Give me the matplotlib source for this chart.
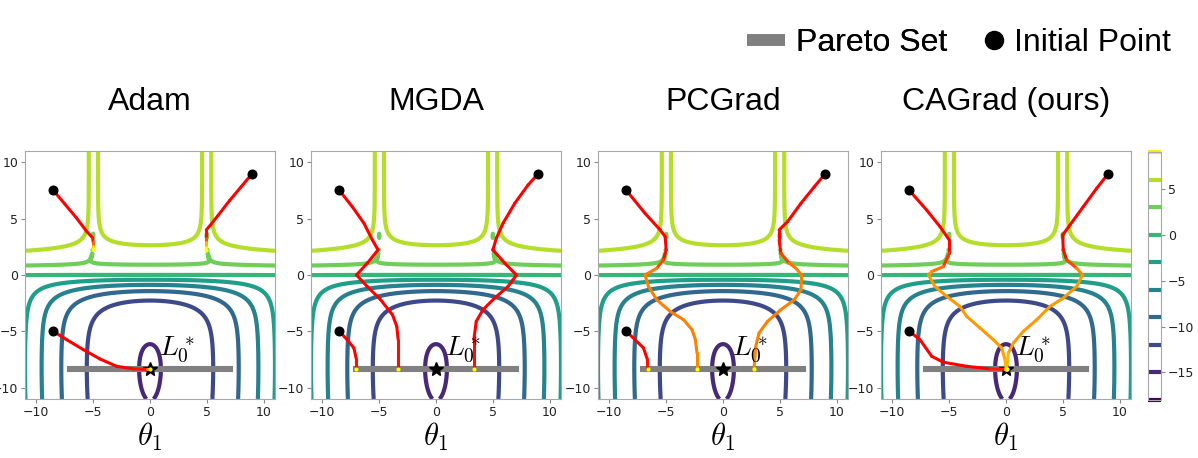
import numpy as np
import matplotlib.pyplot as plt
from matplotlib.collections import LineCollection
from matplotlib.lines import Line2D

plt.rcParams['mathtext.fontset'] = 'cm'

#%% data
methods = ['Adam', 'MGDA', 'PCGrad', 'CAGrad (ours)']
levels = [-18, -15, -12, -9, -6, -3, 0, 3, 6, 9]
cbar_ticks = [-15, -10, -5, 0, 5]
ticks = [-10, -5, 0, 5, 10]
starts_x = [-8.5, 9.0, -8.5]
starts_y = [7.5, 9.0, -5.0]
opt_x, opt_y = 0.0, -8.3552
pareto_x = [-7.0, 7.0]

# trajectory points (theta1, theta2, progress), progress 0 = red ... 1 = yellow
adam = [
    [(-8.5, 7.5, 0), (-7.5, 6.3, 0), (-6.5, 5.1, 0), (-5.6, 3.9, 0), (-5.05, 3.3, 0),
     (-5.0, 2.9, 0.2), (-5.0, 2.6, 0.6), (-5.0, 2.3, 1)],
    [(9.0, 9.0, 0), (8.0, 7.8, 0), (7.0, 6.6, 0), (6.0, 5.3, 0), (5.3, 4.4, 0), (4.95, 4.0, 0),
     (4.95, 3.3, 0.1), (4.95, 2.9, 0.5), (4.95, 2.5, 0.9), (4.95, 2.2, 1)],
    [(-8.5, -5.0, 0), (-7.33, -5.74, 0), (-5.87, -6.62, 0), (-4.4, -7.45, 0), (-2.93, -8.1, 0),
     (-1.47, -8.33, 0), (-0.3, -8.36, 0.1), (0.0, -8.36, 1)],
]
mgda = [
    [(-8.5, 7.5, 0), (-7.37, 6.06, 0), (-6.34, 4.59, 0), (-5.6, 3.11, 0), (-5.1, 2.23, 0),
     (-6.05, 1.04, 0), (-7.0, 0.0, 0), (-6.05, -1.02, 0), (-4.87, -2.2, 0), (-3.83, -3.53, 0),
     (-3.45, -4.56, 0), (-3.33, -5.74, 0), (-3.33, -8.36, 0.1)],
    [(9.0, 9.0, 0), (8.1, 7.98, 0), (6.93, 6.36, 0), (5.9, 4.59, 0), (5.31, 3.26, 0),
     (5.01, 2.23, 0), (6.1, 1.0, 0), (7.08, 0.0, 0), (6.34, -1.02, 0), (5.16, -2.05, 0),
     (4.13, -3.08, 0), (3.54, -4.12, 0), (3.33, -5.74, 0), (3.33, -8.36, 0.1)],
    [(-8.5, -5.0, 0), (-7.82, -5.74, 0), (-7.23, -6.47, 0), (-7.0, -7.5, 0), (-7.0, -8.36, 0.1)],
]
pcgrad = [
    [(-8.5, 7.5, 0), (-6.86, 5.47, 0), (-5.53, 4.0, 0), (-5.09, 3.41, 0), (-5.0, 2.23, 0),
     (-5.24, 1.34, 0.1), (-5.83, 0.6, 0.45), (-6.86, 0.0, 0.5), (-6.56, -1.02, 0.5),
     (-5.83, -2.2, 0.5), (-4.65, -3.23, 0.5), (-3.47, -3.97, 0.5), (-2.73, -4.85, 0.5),
     (-2.43, -5.74, 0.5), (-2.29, -6.92, 0.5), (-2.29, -8.36, 0.55)],
    [(9.0, 9.0, 0), (8.04, 7.83, 0), (6.86, 6.36, 0), (5.68, 4.73, 0), (4.94, 4.0, 0),
     (4.94, 3.11, 0), (5.09, 1.93, 0.1), (5.83, 1.05, 0.4), (6.42, 0.6, 0.5), (6.92, 0.0, 0.5),
     (6.86, -1.31, 0.5), (6.27, -2.2, 0.5), (5.09, -3.08, 0.5), (3.91, -4.12, 0.5),
     (3.17, -5.15, 0.5), (2.88, -6.33, 0.5), (2.73, -8.36, 0.55)],
    [(-8.5, -5.0, 0), (-7.0, -6.47, 0), (-6.65, -7.5, 0), (-6.62, -8.36, 0.1)],
]
cagrad = [
    [(-8.5, 7.5, 0), (-6.98, 5.76, 0), (-5.81, 4.29, 0), (-4.99, 3.11, 0), (-4.99, 1.93, 0.05),
     (-5.51, 0.75, 0.35), (-6.54, 0.31, 0.55), (-6.83, 0.0, 0.6), (-6.25, -1.02, 0.6),
     (-5.22, -1.9, 0.6), (-4.05, -2.79, 0.6), (-3.46, -3.67, 0.6), (-2.29, -4.7, 0.6),
     (-1.11, -5.74, 0.6), (-0.38, -6.47, 0.62), (-0.09, -7.5, 0.65), (0.0, -8.36, 0.8)],
    [(9.0, 9.0, 0), (7.98, 7.69, 0), (6.8, 6.06, 0), (5.63, 4.44, 0), (4.99, 3.55, 0),
     (5.04, 2.23, 0), (5.34, 1.34, 0.1), (6.22, 0.6, 0.45), (6.74, 0.0, 0.6), (6.22, -1.02, 0.6),
     (5.04, -2.05, 0.6), (3.87, -2.79, 0.6), (2.7, -3.97, 0.6), (1.52, -5.0, 0.6),
     (0.65, -6.03, 0.6), (0.21, -6.92, 0.62), (0.06, -8.36, 0.8)],
    [(-8.5, -5.0, 0), (-7.57, -5.74, 0), (-6.54, -7.21, 0), (-5.51, -7.74, 0), (-3.46, -8.1, 0),
     (-1.41, -8.33, 0), (0.0, -8.36, 0.2)],
]
trajs = [adam, mgda, pcgrad, cagrad]

#%% toy loss surface (average of the two tasks)
LOWER = 0.000005

def toy_mean(x1, x2):
    f1 = np.log(np.maximum(np.abs(0.5*(-x1-7) - np.tanh(-x2)), LOWER)) + 6
    f2 = np.log(np.maximum(np.abs(0.5*(-x1+3) + np.tanh(-x2) + 2), LOWER)) + 6
    c1 = np.maximum(np.tanh(x2*0.5), 0)
    f1_sq = ((-x1+7)**2 + 0.1*(-x2-8)**2)/10 - 20
    f2_sq = ((-x1-7)**2 + 0.1*(-x2-8)**2)/10 - 20
    c2 = np.maximum(np.tanh(-x2*0.5), 0)
    f1 = f1*c1 + f1_sq*c2
    f2 = f2*c1 + f2_sq*c2
    return (f1 + f2)/2

xl = 11
n = 500
X, Y = np.meshgrid(np.linspace(-xl, xl, n), np.linspace(-xl, xl, n))
Z = toy_mean(X, Y)

#%% figure
W, H = 1198, 458
fig = plt.figure(figsize=(W/100, H/100), dpi=100)
lefts = [25, 311, 598, 881]
aw, ah, atop = 250, 248, 151
sans = 'Liberation Sans'

for i, name in enumerate(methods):
    ax = fig.add_axes([lefts[i]/W, 1-(atop+ah)/H, aw/W, ah/H])
    cs = ax.contour(X, Y, Z, levels=levels, cmap='viridis', linewidths=3.0)
    ax.plot(pareto_x, [opt_y, opt_y], color='gray', lw=4.4, solid_capstyle='projecting', zorder=3)
    ax.plot(opt_x, opt_y, '*', color='k', markersize=10, zorder=4)
    for tt in trajs[i]:
        pts = np.array(tt)
        seg = np.stack([pts[:-1, :2], pts[1:, :2]], axis=1)
        g = 0.5*(pts[:-1, 2] + pts[1:, 2])
        cols = np.column_stack([np.ones_like(g), g, np.zeros_like(g)])
        lc = LineCollection(seg, colors=cols, linewidths=2.2, capstyle='round',
                            joinstyle='round', zorder=10)
        ax.add_collection(lc)
        ax.scatter(pts[-1, 0], pts[-1, 1], s=9, color=(1, 1, 0), zorder=11, lw=0)
    ax.plot(starts_x, starts_y, 'o', color='k', markersize=6.2, zorder=12, ls='none')
    ax.text(0.8, -7.2, r'$L_0^*$', fontsize=20, ha='left', va='baseline', zorder=13)
    ax.set_xlim(-xl, xl)
    ax.set_ylim(-xl, xl)
    ax.set_xticks(ticks)
    ax.set_yticks(ticks)
    ax.tick_params(labelsize=9, length=3, color='#888888', labelcolor='#222222', pad=2)
    for s in ax.spines.values():
        s.set_color('#a8a8a8')
    cx = (lefts[i] + aw/2)/W
    fig.text(cx, 1-110/H, name, fontsize=23, family=sans, ha='center', va='baseline')
    fig.text(cx, 1-437/H, r'$\theta_1$', fontsize=22, ha='center', va='center')

cax = fig.add_axes([1148/W, 1-400/H, 13/W, 248/H])
cb = fig.colorbar(cs, cax=cax, ticks=cbar_ticks)
cb.ax.tick_params(labelsize=9, length=3, color='#888888', labelcolor='#222222', pad=2)
cb.outline.set_edgecolor('#a8a8a8')

leg_y = 1 - 43/H
leg1 = fig.legend([Line2D([], [], color='gray', lw=8.4, solid_capstyle='butt')], ['Pareto Set'],
                  loc='center left', bbox_to_anchor=(747/W, leg_y), frameon=False,
                  prop={'family': sans, 'size': 23}, handlelength=1.19, handletextpad=0.34,
                  borderpad=0, borderaxespad=0)
fig.legend([Line2D([], [], color='k', marker='o', ls='none', markersize=13)], ['Initial Point'],
           loc='center left', bbox_to_anchor=(985/W, leg_y), frameon=False,
           prop={'family': sans, 'size': 23}, handlelength=0.57, handletextpad=0.34,
           borderpad=0, borderaxespad=0)
fig.add_artist(leg1)

fig.savefig('out.png', dpi=100)
